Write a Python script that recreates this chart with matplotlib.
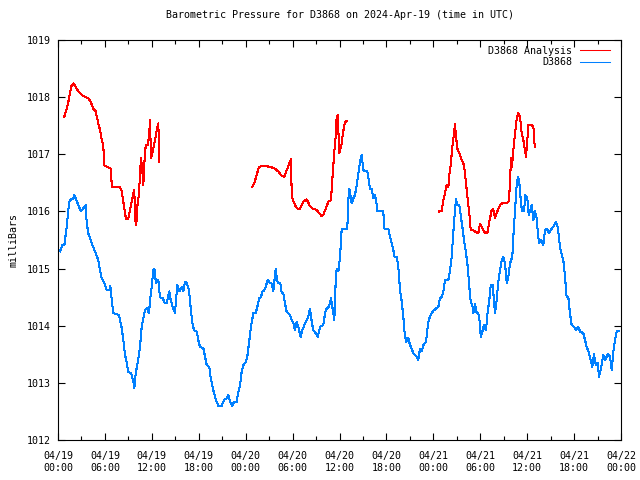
#!/usr/bin/env python3
import matplotlib
matplotlib.use("Agg")
import matplotlib.pyplot as plt
from matplotlib.ticker import MultipleLocator

# hours since 2024-04-19 00:00 UTC, pressure in mb
obs_hours = [0.26, 0.55, 0.81, 1.11, 1.41, 1.53, 1.96, 2.08, 2.60, 2.94, 3.54, 3.67, 3.87, 4.31,
             4.73, 5.15, 5.37, 5.59, 5.92, 6.23, 6.56, 6.69, 6.87, 7.07, 7.80, 7.93, 8.15, 8.35,
             8.57, 8.79, 8.99, 9.34, 9.68, 9.76, 9.94, 10.19, 10.49, 10.70, 10.91, 11.13, 11.34,
             11.64, 11.77, 11.98, 12.19, 12.32, 12.53, 12.83, 13.04, 13.39, 13.68, 13.90, 14.11,
             14.23, 14.41, 14.67, 14.96, 15.09, 15.26, 15.51, 15.82, 16.02, 16.24, 16.46, 16.75,
             16.97, 17.18, 17.39, 17.74, 17.94, 18.16, 18.58, 18.80, 19.02, 19.35, 19.53, 19.73,
             19.95, 20.21, 20.50, 20.94, 21.23, 21.57, 21.78, 22.00, 22.29, 22.51, 22.85, 23.06,
             23.28, 23.49, 23.70, 24.04, 24.21, 24.34, 24.56, 24.68, 24.98, 25.28, 25.49, 25.74,
             25.96, 26.13, 26.38, 26.56, 26.82, 27.11, 27.33, 27.53, 27.84, 28.01, 28.17, 28.43,
             28.61, 28.81, 29.03, 29.25, 29.45, 29.67, 29.89, 30.09, 30.31, 30.52, 30.73, 31.04,
             31.24, 31.50, 31.81, 32.01, 32.23, 32.45, 32.65, 32.96, 33.21, 33.51, 33.93, 34.15,
             34.36, 34.66, 34.91, 35.08, 35.34, 35.51, 35.64, 35.85, 36.07, 36.28, 37.00, 37.13,
             37.25, 37.56, 37.77, 37.98, 38.20, 38.41, 38.62, 38.84, 39.04, 39.56, 39.68, 39.90,
             40.12, 40.32, 40.54, 40.76, 40.84, 41.60, 41.73, 42.24, 42.46, 42.68, 42.88, 43.01,
             43.32, 43.52, 43.74, 43.96, 44.16, 44.29, 44.51, 44.80, 45.02, 45.23, 45.44, 45.66,
             45.87, 46.08, 46.30, 46.51, 46.72, 47.06, 47.23, 47.36, 47.57, 47.79, 47.99, 48.34,
             48.64, 48.85, 49.07, 49.28, 49.49, 49.92, 50.13, 50.35, 50.55, 50.77, 50.90, 51.07,
             51.32, 51.50, 51.71, 51.92, 52.18, 52.40, 52.60, 52.78, 53.04, 53.12, 53.33, 53.55,
             53.75, 53.97, 54.06, 54.31, 54.48, 54.74, 54.90, 55.16, 55.34, 55.59, 55.76, 55.89,
             56.10, 56.31, 56.53, 56.75, 56.95, 57.17, 57.39, 57.59, 57.81, 58.10, 58.23, 58.45,
             58.67, 58.83, 59.00, 59.18, 59.34, 59.60, 59.76, 60.02, 60.20, 60.46, 60.59, 60.79,
             61.01, 61.23, 61.35, 61.52, 61.78, 62.07, 62.28, 62.50, 62.79, 63.14, 63.47, 63.69,
             63.91, 64.20, 64.42, 64.62, 64.84, 64.97, 65.05, 65.26, 65.47, 65.69, 66.02, 66.21,
             66.54, 66.76, 67.18, 67.40, 67.61, 67.91, 68.17, 68.33, 68.55, 68.77, 69.02, 69.19,
             69.44, 69.74, 69.96, 70.30, 70.59, 70.81, 71.02, 71.24, 71.45, 71.74]
obs_mb = [1015.30, 1015.41, 1015.41, 1015.73, 1016.14, 1016.20, 1016.23, 1016.29, 1016.11, 1016.00,
          1016.11, 1015.80, 1015.62, 1015.44, 1015.30, 1015.15, 1014.97, 1014.83, 1014.75, 1014.62,
          1014.62, 1014.70, 1014.45, 1014.22, 1014.19, 1014.10, 1013.96, 1013.75, 1013.49, 1013.35,
          1013.19, 1013.17, 1013.00, 1012.91, 1013.17, 1013.35, 1013.63, 1013.98, 1014.13, 1014.27,
          1014.31, 1014.22, 1014.45, 1014.68, 1014.97, 1015.00, 1014.74, 1014.80, 1014.50, 1014.48,
          1014.39, 1014.39, 1014.54, 1014.60, 1014.45, 1014.33, 1014.22, 1014.45, 1014.71, 1014.60,
          1014.68, 1014.60, 1014.77, 1014.74, 1014.62, 1014.31, 1014.05, 1013.92, 1013.90, 1013.75,
          1013.63, 1013.61, 1013.46, 1013.31, 1013.28, 1013.08, 1012.96, 1012.82, 1012.70, 1012.60,
          1012.60, 1012.70, 1012.73, 1012.79, 1012.67, 1012.60, 1012.67, 1012.67, 1012.84, 1012.96,
          1013.20, 1013.31, 1013.37, 1013.46, 1013.60, 1013.84, 1013.98, 1014.22, 1014.22, 1014.33,
          1014.48, 1014.50, 1014.60, 1014.62, 1014.68, 1014.80, 1014.74, 1014.74, 1014.60, 1015.00,
          1014.80, 1014.74, 1014.74, 1014.57, 1014.57, 1014.39, 1014.24, 1014.22, 1014.19, 1014.10,
          1014.05, 1013.92, 1014.07, 1013.98, 1013.80, 1013.92, 1014.01, 1014.10, 1014.16, 1014.30,
          1014.07, 1013.92, 1013.87, 1013.80, 1013.98, 1014.01, 1014.22, 1014.30, 1014.33, 1014.48,
          1014.33, 1014.10, 1014.77, 1015.00, 1014.95, 1015.21, 1015.70, 1015.70, 1016.20, 1016.40,
          1016.14, 1016.23, 1016.29, 1016.46, 1016.67, 1016.87, 1016.99, 1016.72, 1016.70, 1016.60,
          1016.40, 1016.40, 1016.23, 1016.29, 1016.11, 1016.00, 1016.00, 1015.70, 1015.70, 1015.56,
          1015.44, 1015.33, 1015.21, 1015.21, 1015.03, 1014.62, 1014.42, 1014.16, 1013.92, 1013.72,
          1013.78, 1013.66, 1013.60, 1013.52, 1013.49, 1013.46, 1013.40, 1013.60, 1013.55, 1013.66,
          1013.72, 1013.92, 1014.07, 1014.16, 1014.22, 1014.26, 1014.30, 1014.33, 1014.48, 1014.50,
          1014.60, 1014.80, 1014.80, 1014.97, 1015.21, 1015.62, 1016.03, 1016.21, 1016.11, 1016.11,
          1015.94, 1015.73, 1015.50, 1015.27, 1015.03, 1014.68, 1014.42, 1014.33, 1014.22, 1014.38,
          1014.22, 1014.22, 1014.04, 1013.80, 1013.92, 1014.01, 1013.92, 1014.19, 1014.45, 1014.71,
          1014.71, 1014.42, 1014.22, 1014.45, 1014.77, 1014.97, 1015.15, 1015.21, 1015.09, 1014.74,
          1014.86, 1015.09, 1015.21, 1015.56, 1016.03, 1016.49, 1016.61, 1016.49, 1016.20, 1016.00,
          1016.00, 1016.29, 1016.23, 1015.94, 1016.05, 1016.11, 1015.85, 1016.00, 1015.88, 1015.65,
          1015.44, 1015.50, 1015.41, 1015.68, 1015.70, 1015.62, 1015.70, 1015.76, 1015.82, 1015.73,
          1015.38, 1015.24, 1015.15, 1014.86, 1014.62, 1014.50, 1014.50, 1014.22, 1014.01, 1013.98,
          1013.92, 1013.98, 1013.90, 1013.87, 1013.75, 1013.63, 1013.52, 1013.37, 1013.28, 1013.50,
          1013.31, 1013.35, 1013.11, 1013.25, 1013.49, 1013.40, 1013.50, 1013.46, 1013.22, 1013.55,
          1013.75, 1013.90, 1013.90]

# analysis, three separate runs (gaps between them)
ana1_hours = [0.81, 1.24, 1.53, 1.75, 1.96, 2.26, 2.60, 3.03, 3.54, 3.88, 4.18, 4.51, 4.82, 5.15,
              5.37, 5.59, 5.79, 5.92, 6.23, 6.78, 6.87, 7.93, 8.15, 8.35, 8.57, 8.70, 8.99, 9.21,
              9.43, 9.63, 9.76, 9.85, 10.01, 10.14, 10.36, 10.49, 10.62, 10.78, 10.91, 11.04, 11.22,
              11.47, 11.64, 11.77, 11.89, 12.11, 12.28, 12.53, 12.70, 12.83, 12.96]
ana1_mb = [1017.66, 1017.86, 1018.07, 1018.21, 1018.24, 1018.18, 1018.10, 1018.04, 1018.00, 1017.98,
           1017.92, 1017.80, 1017.75, 1017.54, 1017.43, 1017.25, 1017.16, 1016.81, 1016.78, 1016.75,
           1016.43, 1016.43, 1016.35, 1016.17, 1015.97, 1015.87, 1015.87, 1016.03, 1016.17, 1016.32,
           1016.37, 1015.88, 1015.76, 1016.08, 1016.32, 1016.67, 1016.93, 1016.72, 1016.46, 1016.84,
           1017.16, 1017.16, 1017.31, 1017.60, 1016.93, 1017.05, 1017.16, 1017.34, 1017.48, 1017.54,
           1016.87]
ana2_hours = [24.85, 25.10, 25.41, 25.71, 26.26, 27.11, 27.75, 28.17, 28.61, 28.94, 29.25, 29.67,
              29.80, 29.89, 30.31, 30.66, 30.95, 31.37, 31.81, 32.23, 32.65, 33.09, 33.38, 33.72,
              33.93, 34.24, 34.57, 34.91, 35.08, 35.34, 35.51, 35.64, 35.77, 35.97, 36.28, 36.41,
              36.58, 36.71, 37.00]
ana2_mb = [1016.43, 1016.49, 1016.64, 1016.78, 1016.80, 1016.78, 1016.75, 1016.70, 1016.62, 1016.61,
           1016.72, 1016.87, 1016.91, 1016.26, 1016.11, 1016.04, 1016.05, 1016.17, 1016.21, 1016.09,
           1016.04, 1016.03, 1015.97, 1015.92, 1015.94, 1016.05, 1016.17, 1016.20, 1016.55, 1017.05,
           1017.31, 1017.66, 1017.69, 1017.02, 1017.19, 1017.34, 1017.48, 1017.57, 1017.58]
ana3_hours = [48.77, 49.07, 49.28, 49.49, 49.71, 49.92, 50.04, 50.22, 50.43, 50.65, 50.77, 50.90,
              51.07, 51.32, 51.63, 51.92, 52.18, 52.40, 52.60, 52.78, 53.12, 53.55, 53.75, 53.97,
              54.31, 54.61, 54.90, 55.16, 55.47, 55.67, 55.89, 56.18, 56.53, 56.87, 57.39, 57.68,
              57.81, 57.94, 58.06, 58.23, 58.45, 58.67, 58.87, 59.08, 59.30, 59.51, 59.72, 59.85,
              60.02, 60.15, 60.37, 60.79, 60.97]
ana3_mb = [1016.00, 1016.01, 1016.20, 1016.32, 1016.46, 1016.42, 1016.64, 1016.81, 1017.13, 1017.37,
           1017.53, 1017.31, 1017.10, 1017.02, 1016.90, 1016.81, 1016.49, 1016.20, 1015.97, 1015.68,
           1015.67, 1015.63, 1015.62, 1015.78, 1015.70, 1015.62, 1015.62, 1015.82, 1016.03, 1016.04,
           1015.88, 1016.00, 1016.11, 1016.15, 1016.15, 1016.18, 1016.55, 1016.93, 1016.78, 1017.07,
           1017.37, 1017.63, 1017.72, 1017.66, 1017.37, 1017.25, 1017.07, 1016.96, 1017.25, 1017.51,
           1017.52, 1017.49, 1017.12]

tick_hours = [0, 6, 12, 18, 24, 30, 36, 42, 48, 54, 60, 66, 72]
tick_labels = ['04/19\n00:00', '04/19\n06:00', '04/19\n12:00', '04/19\n18:00',
               '04/20\n00:00', '04/20\n06:00', '04/20\n12:00', '04/20\n18:00',
               '04/21\n00:00', '04/21\n06:00', '04/21\n12:00', '04/21\n18:00',
               '04/22\n00:00']

plt.rcParams['font.family'] = ['DejaVu Sans Mono']
plt.rcParams['font.size'] = 7.2

fig = plt.figure(figsize=(6.4, 4.8), dpi=100)
ax = fig.add_axes([58/640, 40/480, 563/640, 400/480])

red = '#ff0000'
blue = '#0080ff'
lw = 0.75
ax.plot(ana1_hours, ana1_mb, color=red, lw=lw, antialiased=False, label='D3868 Analysis')
ax.plot(ana2_hours, ana2_mb, color=red, lw=lw, antialiased=False)
ax.plot(ana3_hours, ana3_mb, color=red, lw=lw, antialiased=False)
ax.plot(obs_hours, obs_mb, color=blue, lw=lw, antialiased=False, label='D3868')

ax.set_xlim(0, 72)
ax.set_ylim(1012, 1019)
ax.set_xticks(tick_hours)
ax.set_xticklabels(tick_labels)
ax.xaxis.set_minor_locator(MultipleLocator(3))
ax.yaxis.set_major_locator(MultipleLocator(1))
ax.yaxis.set_major_formatter(matplotlib.ticker.FormatStrFormatter('%d'))
ax.tick_params(which='both', direction='in', top=True, right=True, width=0.8)
ax.tick_params(axis='x', pad=8)
ax.tick_params(axis='y', pad=5)
ax.tick_params(which='major', length=5)
ax.tick_params(which='minor', length=3)
for s in ax.spines.values():
    s.set_linewidth(0.8)

ax.set_title('Barometric Pressure for D3868 on 2024-Apr-19 (time in UTC)', fontsize=7.2, pad=16)
ax.set_ylabel('milliBars', labelpad=6)

ax.legend(loc='upper right', bbox_to_anchor=(1 - 5/563, 1), frameon=False, markerfirst=False,
          handlelength=3.0, handletextpad=0.8, borderaxespad=0.3, borderpad=0.3,
          labelspacing=0.15)

fig.savefig('out.png', dpi=100)
